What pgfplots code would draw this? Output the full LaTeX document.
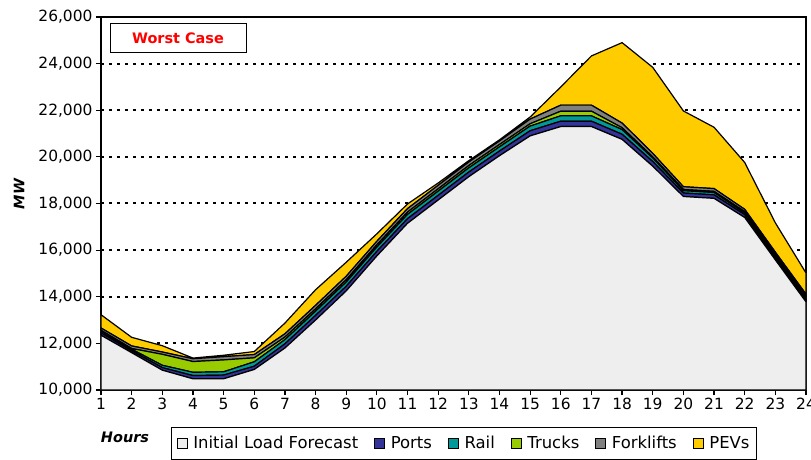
\documentclass[border=0pt]{standalone}
\usepackage{fontspec}
\setmainfont{DejaVu Sans}
\usepackage{pgfplots}
\pgfplotsset{compat=1.18}
\usepackage{pgfplotstable}

\definecolor{baseC}{HTML}{EEEEEE}
\definecolor{portsC}{HTML}{333399}
\definecolor{railC}{HTML}{009999}
\definecolor{trucksC}{HTML}{99CC00}
\definecolor{forkC}{HTML}{808080}
\definecolor{pevC}{HTML}{FFCC00}

\pgfplotstableread{
h base ports rail trucks fork pev
1 12350 100 80 30 100 570
2 11600 80 70 30 110 370
3 10850 110 100 470 100 270
4 10480 140 140 460 120 30
5 10480 160 140 510 140 60
6 10880 140 190 170 140 130
7 11800 180 180 110 140 460
8 13000 200 180 100 150 670
9 14250 200 180 100 150 600
10 15750 200 180 100 150 320
11 17150 200 180 100 150 200
12 18150 200 180 100 150 100
13 19150 200 180 100 150 60
14 20050 200 180 100 150 50
15 20900 220 200 100 200 90
16 21300 230 230 200 260 780
17 21300 230 230 200 260 2110
18 20750 220 200 80 200 3450
19 19600 200 150 50 150 3690
20 18300 150 100 50 120 3250
21 18220 150 100 50 120 2630
22 17400 120 80 50 100 2010
23 15580 100 80 50 100 1260
24 13780 100 80 50 100 910
}\loadtable

\begin{document}
\begin{tikzpicture}
\begin{axis}[
  at={(0,0)}, anchor=south west,
  width=705bp, height=373bp, scale only axis,
  xmin=1, xmax=24, ymin=10000, ymax=26000,
  xtick={1,...,24}, ytick={10000,12000,...,26000},
  scaled y ticks=false,
  yticklabel style={/pgf/number format/.cd,1000 sep={,},assume math mode=true},
  xticklabel style={/pgf/number format/assume math mode=true},
  tick label style={font=\fontsize{15.5}{17}\selectfont},
  tick align=outside, tick pos=left,
  major tick length=5bp,
  tick style={black, line width=1.2bp},
  axis line style={black, line width=1.5bp},
  ymajorgrids,
  major grid style={black, line width=2bp, dash pattern=on 3bp off 5bp},
  stack plots=y,
  legend style={at={(0.515,-0.099)}, anchor=north, draw=black, line width=0.8bp,
    font=\fontsize{16.5}{19}\selectfont, inner xsep=5bp, inner ysep=7bp,
    /tikz/every odd column/.append style={column sep=4bp},
    /tikz/every even column/.append style={column sep=14bp}},
  legend columns=-1,
  legend image code/.code={\draw[#1,draw=black,line width=0.6bp] (0bp,-5bp) rectangle (10bp,5bp);},
]
\addplot[fill=baseC, draw=black, line width=1.2bp] table[x=h,y=base]{\loadtable} \closedcycle;
\addlegendentry{Initial Load Forecast}
\addplot[fill=portsC, draw=black, line width=1.2bp] table[x=h,y=ports]{\loadtable} \closedcycle;
\addlegendentry{Ports}
\addplot[fill=railC, draw=black, line width=1.2bp] table[x=h,y=rail]{\loadtable} \closedcycle;
\addlegendentry{Rail}
\addplot[fill=trucksC, draw=black, line width=1.2bp] table[x=h,y=trucks]{\loadtable} \closedcycle;
\addlegendentry{Trucks}
\addplot[fill=forkC, draw=black, line width=1.2bp] table[x=h,y=fork]{\loadtable} \closedcycle;
\addlegendentry{Forklifts}
\addplot[fill=pevC, draw=black, line width=1.2bp] table[x=h,y=pev]{\loadtable} \closedcycle;
\addlegendentry{PEVs}
\end{axis}
\node[draw=black, line width=1bp, minimum width=136bp, minimum height=29bp, inner sep=0pt,
  text=red, font=\fontsize{14.5}{16}\selectfont\bfseries] at (77bp,351.5bp) {Worst Case};
\node[font=\fontsize{14.5}{16}\selectfont\bfseries\itshape] at (24bp,-47bp) {Hours};
\node[rotate=90, font=\fontsize{14.5}{16}\selectfont\bfseries\itshape] at (-82bp,196bp) {MW};
\pgfresetboundingbox
\path (-101bp,-70bp) rectangle (710bp,390bp);
\end{tikzpicture}
\end{document}
